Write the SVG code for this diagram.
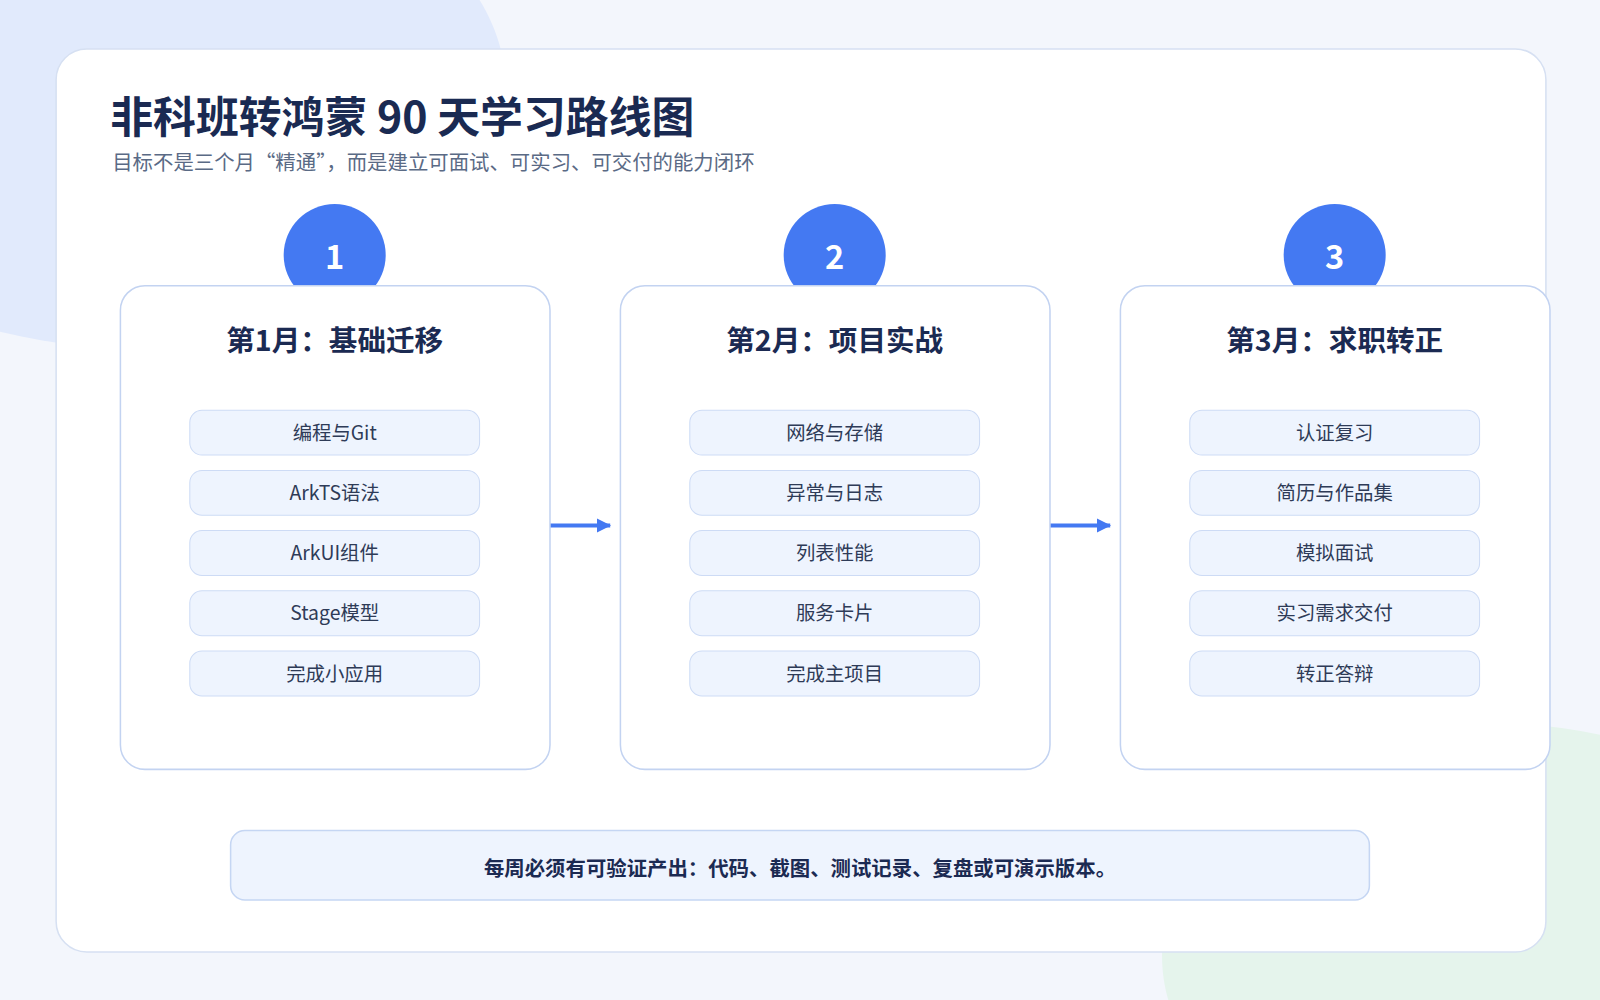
<svg xmlns="http://www.w3.org/2000/svg" width="1600" height="1000" viewBox="0 0 1600 1000">
<style>
.t{font-family:"Noto Sans CJK SC","Noto Sans",sans-serif}
.card{fill:#fff;stroke:#c3d3f1;stroke-width:1.5}
.pill{fill:#eef4fe;stroke:#cddbf5;stroke-width:1}
.pt{font-size:19px;fill:#2e3b57;text-anchor:middle}
.ct{font-size:28px;font-weight:700;fill:#1b2a52;text-anchor:middle}
.num{font-size:32px;font-weight:700;fill:#fff;text-anchor:middle}
.circ{fill:#4479f2}
.arr{stroke:#4479f2;stroke-width:4;fill:none}
</style>
<defs><marker id="ah" markerWidth="8" markerHeight="8" refX="6" refY="4" orient="auto" markerUnits="userSpaceOnUse" viewBox="0 0 8 8"><path d="M0,0 L8,4 L0,8z" fill="#4479f2"/></marker>
<marker id="ah2" markerWidth="14" markerHeight="14" refX="13" refY="7" orient="auto" markerUnits="userSpaceOnUse"><path d="M0,0 L14,7 L0,14z" fill="#4479f2"/></marker></defs>
<g transform="scale(1.0204)">
<rect width="1568" height="980" fill="#f3f6fc"/>
<path d="M0,0 H470 C520,80 500,200 420,270 C320,350 150,360 0,325 Z" fill="#e1eafc"/>
<path d="M1568,720 C1420,690 1290,720 1200,800 C1140,860 1130,930 1145,980 H1568 Z" fill="#e5f4ec"/>
<rect x="55" y="48" width="1460" height="885" rx="30" fill="#fff" stroke="#d6e0f2" stroke-width="1.5"/>
<text class="t" x="108" y="130" font-size="42" font-weight="700" fill="#1a2a52">非科班转鸿蒙 90 天学习路线图</text>
<text class="t" x="110" y="167" font-size="20" fill="#5a6a85">目标不是三个月“精通”，而是建立可面试、可实习、可交付的能力闭环</text>
<g id="connectors">
<line class="arr" x1="539" y1="515" x2="598" y2="515" marker-end="url(#ah2)"/>
<line class="arr" x1="1029" y1="515" x2="1088" y2="515" marker-end="url(#ah2)"/>
</g>
<g id="month1">
<circle class="circ" cx="328" cy="250" r="50"/><rect class="card" x="118" y="280" width="421" height="474" rx="24"/>
<text class="t num" x="328" y="264">1</text>
<text class="t ct" x="328" y="344">第1月：基础迁移</text>
<rect class="pill" x="186" y="402" width="284" height="44" rx="12"/><text class="t pt" x="328" y="431">编程与Git</text>
<rect class="pill" x="186" y="461" width="284" height="44" rx="12"/><text class="t pt" x="328" y="490">ArkTS语法</text>
<rect class="pill" x="186" y="520" width="284" height="44" rx="12"/><text class="t pt" x="328" y="549">ArkUI组件</text>
<rect class="pill" x="186" y="579" width="284" height="44" rx="12"/><text class="t pt" x="328" y="608">Stage模型</text>
<rect class="pill" x="186" y="638" width="284" height="44" rx="12"/><text class="t pt" x="328" y="667">完成小应用</text>
</g>
<g id="month2">
<circle class="circ" cx="818" cy="250" r="50"/><rect class="card" x="608" y="280" width="421" height="474" rx="24"/>
<text class="t num" x="818" y="264">2</text>
<text class="t ct" x="818" y="344">第2月：项目实战</text>
<rect class="pill" x="676" y="402" width="284" height="44" rx="12"/><text class="t pt" x="818" y="431">网络与存储</text>
<rect class="pill" x="676" y="461" width="284" height="44" rx="12"/><text class="t pt" x="818" y="490">异常与日志</text>
<rect class="pill" x="676" y="520" width="284" height="44" rx="12"/><text class="t pt" x="818" y="549">列表性能</text>
<rect class="pill" x="676" y="579" width="284" height="44" rx="12"/><text class="t pt" x="818" y="608">服务卡片</text>
<rect class="pill" x="676" y="638" width="284" height="44" rx="12"/><text class="t pt" x="818" y="667">完成主项目</text>
</g>
<g id="month3">
<circle class="circ" cx="1308" cy="250" r="50"/><rect class="card" x="1098" y="280" width="421" height="474" rx="24"/>
<text class="t num" x="1308" y="264">3</text>
<text class="t ct" x="1308" y="344">第3月：求职转正</text>
<rect class="pill" x="1166" y="402" width="284" height="44" rx="12"/><text class="t pt" x="1308" y="431">认证复习</text>
<rect class="pill" x="1166" y="461" width="284" height="44" rx="12"/><text class="t pt" x="1308" y="490">简历与作品集</text>
<rect class="pill" x="1166" y="520" width="284" height="44" rx="12"/><text class="t pt" x="1308" y="549">模拟面试</text>
<rect class="pill" x="1166" y="579" width="284" height="44" rx="12"/><text class="t pt" x="1308" y="608">实习需求交付</text>
<rect class="pill" x="1166" y="638" width="284" height="44" rx="12"/><text class="t pt" x="1308" y="667">转正答辩</text>
</g>
<g id="footer">
<rect x="226" y="814" width="1116" height="68" rx="14" fill="#eef4fe" stroke="#c5d6f3" stroke-width="1.5"/>
<text class="t" x="784" y="858" font-size="20" font-weight="700" fill="#1b2a52" text-anchor="middle">每周必须有可验证产出：代码、截图、测试记录、复盘或可演示版本。</text>
</g>
</g>
</svg>
